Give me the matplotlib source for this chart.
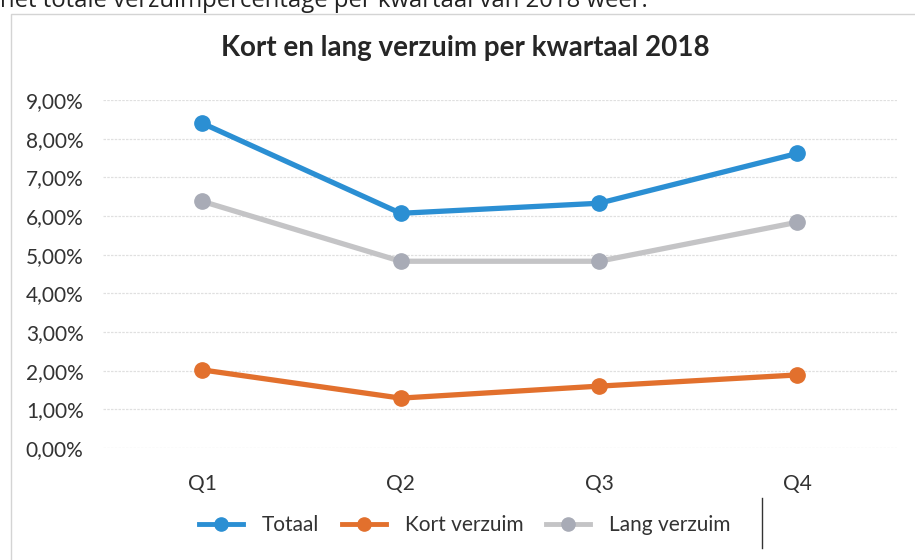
import matplotlib.pyplot as plt
from matplotlib.patches import Rectangle
from matplotlib.ticker import FuncFormatter
from matplotlib.lines import Line2D

quarters = ['Q1', 'Q2', 'Q3', 'Q4']
totaal = [8.40, 6.07, 6.33, 7.62]
kort = [2.02, 1.29, 1.60, 1.89]
lang = [6.38, 4.83, 4.83, 5.84]

plt.rcParams['font.family'] = ['Lato', 'DejaVu Sans']

fig = plt.figure(figsize=(9.15, 5.6), dpi=100)
ax = fig.add_axes([0.1126, 0.2, 0.8674, 0.6214])

x = range(len(quarters))
series = [
    ('Totaal', totaal, '#2b8fd3', '#2b8fd3'),
    ('Kort verzuim', kort, '#e2702d', '#e2702d'),
    ('Lang verzuim', lang, '#c4c4c6', '#a8abb6'),
]
for name, vals, col, mcol in series:
    ax.plot(x, [v / 100 for v in vals], color=col, lw=3.8, marker='o',
            markersize=11, markerfacecolor=mcol, markeredgecolor=mcol,
            solid_capstyle='round', label=name, zorder=3)

ax.set_xlim(-0.5, 3.5)
ax.set_ylim(0, 0.09)
ax.set_yticks([i / 100 for i in range(10)])
ax.yaxis.set_major_formatter(FuncFormatter(lambda v, p: f'{v * 100:.2f}%'.replace('.', ',')))
ax.set_xticks(list(x))
ax.set_xticklabels(quarters)
ax.tick_params(axis='both', length=0, labelsize=15, colors='#333333')
ax.tick_params(axis='y', pad=14)
ax.tick_params(axis='x', pad=19)
ax.grid(axis='y', color='#e0e0e0', lw=0.9, ls=(0, (2, 1)))
ax.set_axisbelow(True)
for s in ax.spines.values():
    s.set_visible(False)

fig.text(0.508, 0.915, 'Kort en lang verzuim per kwartaal 2018', ha='center', va='center',
         fontsize=20, fontweight='bold', color='#262626')

# cut off line of body text above the chart (as in the scan)
fig.text(0.0, 0.9875, 'het totale verzuimpercentage per kwartaal van 2018 weer.', ha='left',
         va='baseline', fontsize=17.2, color='#222222', family=['Open Sans', 'DejaVu Sans'])

# chart border
fig.patches.append(Rectangle((0.012, -0.01), 1.0, 0.985, transform=fig.transFigure,
                             fill=False, edgecolor='#d4d4d4', lw=1.0))

handles = [Line2D([0], [0], color=col, lw=3.5, marker='o', markersize=9.5,
                  markerfacecolor=mcol, markeredgecolor=mcol)
           for name, vals, col, mcol in series]
fig.legend(handles, [s[0] for s in series], loc='center', bbox_to_anchor=(0.508, 0.062),
           ncol=3, frameon=False, fontsize=15, handlelength=2.1, columnspacing=1.1,
           handletextpad=0.9, labelcolor='#333333')

# stray text cursor next to the legend
fig.add_artist(Line2D([0.833, 0.833], [0.021, 0.111], transform=fig.transFigure,
                      color='#333333', lw=1.0))

fig.savefig('out.png', dpi=100)
